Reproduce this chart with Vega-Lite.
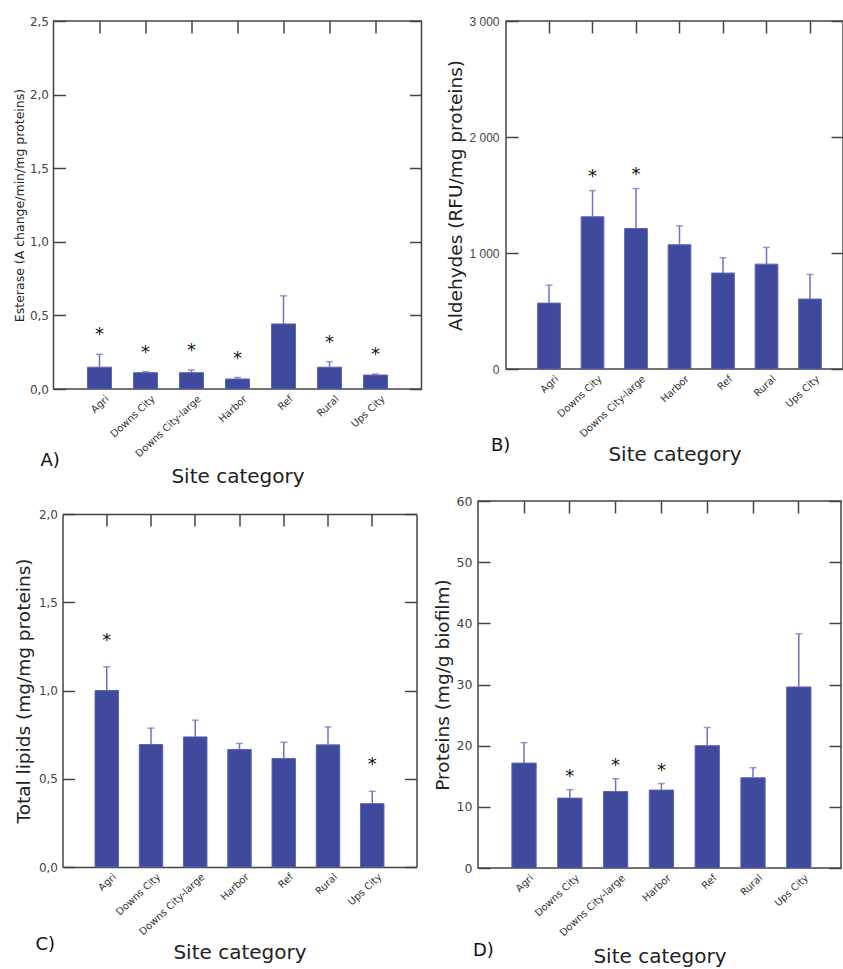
{
  "$schema": "https://vega.github.io/schema/vega-lite/v6.json",
  "padding": {"left": 12.5, "top": 9, "right": 0, "bottom": 0},
  "columns": 2,
  "align": "none",
  "bounds": "full",
  "spacing": {"row": 6, "column": 4.5},
  "datasets": {
    "esterase": [
      {"site": "Agri", "mean": 0.148, "upper": 0.236, "sig": "*"},
      {"site": "Downs City", "mean": 0.111, "upper": 0.118, "sig": "*"},
      {"site": "Downs City-large", "mean": 0.111, "upper": 0.129, "sig": "*"},
      {"site": "Harbor", "mean": 0.068, "upper": 0.078, "sig": "*"},
      {"site": "Ref", "mean": 0.442, "upper": 0.633, "sig": ""},
      {"site": "Rural", "mean": 0.148, "upper": 0.186, "sig": "*"},
      {"site": "Ups City", "mean": 0.095, "upper": 0.102, "sig": "*"}
    ],
    "aldehydes": [
      {"site": "Agri", "mean": 568, "upper": 723, "sig": ""},
      {"site": "Downs City", "mean": 1312, "upper": 1538, "sig": "*"},
      {"site": "Downs City-large", "mean": 1211, "upper": 1556, "sig": "*"},
      {"site": "Harbor", "mean": 1071, "upper": 1234, "sig": ""},
      {"site": "Ref", "mean": 827, "upper": 959, "sig": ""},
      {"site": "Rural", "mean": 904, "upper": 1048, "sig": ""},
      {"site": "Ups City", "mean": 603, "upper": 815, "sig": ""}
    ],
    "lipids": [
      {"site": "Agri", "mean": 1.0, "upper": 1.134, "sig": "*"},
      {"site": "Downs City", "mean": 0.694, "upper": 0.787, "sig": ""},
      {"site": "Downs City-large", "mean": 0.737, "upper": 0.832, "sig": ""},
      {"site": "Harbor", "mean": 0.666, "upper": 0.70, "sig": ""},
      {"site": "Ref", "mean": 0.615, "upper": 0.707, "sig": ""},
      {"site": "Rural", "mean": 0.692, "upper": 0.794, "sig": ""},
      {"site": "Ups City", "mean": 0.359, "upper": 0.429, "sig": "*"}
    ],
    "proteins": [
      {"site": "Agri", "mean": 17.15, "upper": 20.5, "sig": ""},
      {"site": "Downs City", "mean": 11.43, "upper": 12.8, "sig": "*"},
      {"site": "Downs City-large", "mean": 12.5, "upper": 14.6, "sig": "*"},
      {"site": "Harbor", "mean": 12.74, "upper": 13.8, "sig": "*"},
      {"site": "Ref", "mean": 20.0, "upper": 22.97, "sig": ""},
      {"site": "Rural", "mean": 14.75, "upper": 16.4, "sig": ""},
      {"site": "Ups City", "mean": 29.6, "upper": 38.3, "sig": ""}
    ]
  },
  "concat": [
    {
      "width": 368, "height": 368,
      "data": {"name": "esterase"},
      "title": {"text": "A)", "orient": "bottom", "anchor": "start", "frame": "group", "dx": -13, "offset": -35},
      "layer": [
        {
          "mark": {"type": "bar", "color": "#3f4a9d", "stroke": "#5d64b3", "strokeWidth": 1},
          "encoding": {
            "x": {"field": "site", "type": "nominal", "sort": null, "scale": {"paddingInner": 0.478, "paddingOuter": 0.739},
                  "axis": {"orient": "bottom", "ticks": false, "labelAngle": -43, "labelAlign": "right", "labelBaseline": "middle", "labelFontSize": 10, "labelPadding": 8, "labelOffset": 8, "labelColor": "#333", "labelOverlap": false, "title": "Site category", "titleFontSize": 20, "titlePadding": 8}},
            "y": {"field": "mean", "type": "quantitative", "scale": {"domain": [0, 2.5], "nice": false},
                  "axis": {"orient": "left", "values": [0, 0.5, 1, 1.5, 2, 2.5], "format": ".1f", "tickSize": -12, "labelPadding": 17, "labelFontSize": 12, "minExtent": 0, "title": "Esterase (A change/min/mg proteins)", "titleFontSize": 12.5, "titlePadding": 3}}
          }
        },
        {
          "mark": {"type": "rule", "color": "#6e72c0", "strokeWidth": 1.5},
          "encoding": {
            "x": {"field": "site", "type": "nominal", "sort": null, "axis": {"orient": "top", "labels": false, "tickSize": -12, "title": null}},
            "y": {"field": "mean", "type": "quantitative", "scale": {"domain": [0, 2.5], "nice": false}, "axis": {"orient": "right", "values": [0, 0.5, 1, 1.5, 2, 2.5], "labels": false, "tickSize": -12, "title": null, "minExtent": 5}},
            "y2": {"field": "upper"}
          }
        },
        {
          "mark": {"type": "tick", "color": "#6e72c0", "thickness": 1.5, "size": 7},
          "encoding": {
            "x": {"field": "site", "type": "nominal", "sort": null, "axis": null},
            "y": {"field": "upper", "type": "quantitative", "axis": null}
          }
        },
        {
          "mark": {"type": "text", "font": "DejaVu Sans", "fontSize": 18, "baseline": "alphabetic", "dy": -14, "color": "#111"},
          "encoding": {
            "x": {"field": "site", "type": "nominal", "sort": null, "axis": null},
            "y": {"field": "upper", "type": "quantitative", "axis": null},
            "text": {"field": "sig"}
          }
        }
      ],
      "resolve": {"axis": {"x": "independent", "y": "independent"}}
    },
    {
      "width": 337, "height": 348,
      "data": {"name": "aldehydes"},
      "title": {"text": "B)", "orient": "bottom", "anchor": "start", "frame": "group", "dx": -15, "offset": -28},
      "layer": [
        {
          "mark": {"type": "bar", "color": "#3f4a9d", "stroke": "#5d64b3", "strokeWidth": 1},
          "encoding": {
            "x": {"field": "site", "type": "nominal", "sort": null, "scale": {"paddingInner": 0.478, "paddingOuter": 0.6125, "align": 0.594},
                  "axis": {"orient": "bottom", "ticks": false, "labelAngle": -43, "labelAlign": "right", "labelBaseline": "middle", "labelFontSize": 10, "labelPadding": 8, "labelOffset": 8, "labelColor": "#333", "labelOverlap": false, "title": "Site category", "titleFontSize": 20, "titlePadding": 6}},
            "y": {"field": "mean", "type": "quantitative", "scale": {"domain": [0, 3000], "nice": false},
                  "axis": {"orient": "left", "values": [0, 1000, 2000, 3000], "format": ",d", "tickSize": -12, "labelPadding": 19, "labelFontSize": 12, "labelFont": "Liberation Sans", "minExtent": 0, "title": [" ", "Aldehydes (RFU/mg proteins)"], "titleLineHeight": 14, "titleFontSize": 18.5, "titlePadding": 3}}
          }
        },
        {
          "mark": {"type": "rule", "color": "#6e72c0", "strokeWidth": 1.5},
          "encoding": {
            "x": {"field": "site", "type": "nominal", "sort": null, "axis": {"orient": "top", "labels": false, "tickSize": -12, "title": null, "minExtent": 11}},
            "y": {"field": "mean", "type": "quantitative", "scale": {"domain": [0, 3000], "nice": false}, "axis": {"orient": "right", "values": [0, 1000, 2000, 3000], "labels": false, "tickSize": -12, "title": null, "minExtent": 0}},
            "y2": {"field": "upper"}
          }
        },
        {
          "mark": {"type": "tick", "color": "#6e72c0", "thickness": 1.5, "size": 7},
          "encoding": {
            "x": {"field": "site", "type": "nominal", "sort": null, "axis": null},
            "y": {"field": "upper", "type": "quantitative", "axis": null}
          }
        },
        {
          "mark": {"type": "text", "font": "DejaVu Sans", "fontSize": 18, "baseline": "alphabetic", "dy": -9, "color": "#111"},
          "encoding": {
            "x": {"field": "site", "type": "nominal", "sort": null, "axis": null},
            "y": {"field": "upper", "type": "quantitative", "axis": null},
            "text": {"field": "sig"}
          }
        }
      ],
      "resolve": {"axis": {"x": "independent", "y": "independent"}}
    },
    {
      "width": 363, "height": 353,
      "data": {"name": "lipids"},
      "view": {"stroke": null},
      "title": {"text": "C)", "orient": "bottom", "anchor": "start", "frame": "group", "dx": -18, "offset": -27},
      "layer": [
        {
          "mark": {"type": "bar", "color": "#3f4a9d", "stroke": "#5d64b3", "strokeWidth": 1},
          "encoding": {
            "x": {"field": "site", "type": "nominal", "sort": null, "scale": {"range": [9, 363], "paddingInner": 0.47, "paddingOuter": 0.735},
                  "axis": {"orient": "bottom", "ticks": false, "domain": true, "domainColor": "#444", "domainWidth": 1.5, "labelAngle": -43, "labelAlign": "right", "labelBaseline": "middle", "labelFontSize": 10, "labelPadding": 8, "labelOffset": 8, "labelColor": "#333", "labelOverlap": false, "title": "Site category", "titleFontSize": 20, "titlePadding": 6}},
            "y": {"field": "mean", "type": "quantitative", "scale": {"domain": [0, 2], "nice": false},
                  "axis": {"orient": "left", "offset": -9, "domain": true, "domainColor": "#444", "domainWidth": 1.5, "values": [0, 0.5, 1, 1.5, 2], "format": ".1f", "tickSize": -12, "labelPadding": 17, "labelFontSize": 12, "minExtent": 0, "title": "Total lipids (mg/mg proteins)", "titleFontSize": 18.5, "titlePadding": 4.5}}
          }
        },
        {
          "mark": {"type": "rule", "color": "#6e72c0", "strokeWidth": 1.5},
          "encoding": {
            "x": {"field": "site", "type": "nominal", "sort": null, "axis": {"orient": "top", "domain": true, "domainColor": "#444", "domainWidth": 1.5, "labels": false, "tickSize": -12, "title": null, "minExtent": 20}},
            "y": {"field": "mean", "type": "quantitative", "scale": {"domain": [0, 2], "nice": false}, "axis": {"orient": "right", "domain": true, "domainColor": "#444", "domainWidth": 1.5, "values": [0, 0.5, 1, 1.5, 2], "labels": false, "tickSize": -12, "title": null, "minExtent": 0}},
            "y2": {"field": "upper"}
          }
        },
        {
          "mark": {"type": "tick", "color": "#6e72c0", "thickness": 1.5, "size": 7},
          "encoding": {
            "x": {"field": "site", "type": "nominal", "sort": null, "axis": null},
            "y": {"field": "upper", "type": "quantitative", "axis": null}
          }
        },
        {
          "mark": {"type": "text", "font": "DejaVu Sans", "fontSize": 18, "baseline": "alphabetic", "dy": -21, "color": "#111"},
          "encoding": {
            "x": {"field": "site", "type": "nominal", "sort": null, "axis": null},
            "y": {"field": "upper", "type": "quantitative", "axis": null},
            "text": {"field": "sig"}
          }
        }
      ],
      "resolve": {"axis": {"x": "independent", "y": "independent"}}
    },
    {
      "width": 363, "height": 367,
      "data": {"name": "proteins"},
      "title": {"text": "D)", "orient": "bottom", "anchor": "start", "frame": "group", "dx": -5, "offset": -24.5},
      "layer": [
        {
          "mark": {"type": "bar", "color": "#3f4a9d", "stroke": "#5d64b3", "strokeWidth": 1},
          "encoding": {
            "x": {"field": "site", "type": "nominal", "sort": null, "scale": {"paddingInner": 0.47, "paddingOuter": 0.698, "align": 0.53},
                  "axis": {"orient": "bottom", "ticks": false, "labelAngle": -43, "labelAlign": "right", "labelBaseline": "middle", "labelFontSize": 10, "labelPadding": 8, "labelOffset": 8, "labelColor": "#333", "labelOverlap": false, "title": "Site category", "titleFontSize": 20, "titlePadding": 9}},
            "y": {"field": "mean", "type": "quantitative", "scale": {"domain": [0, 60], "nice": false},
                  "axis": {"orient": "left", "values": [0, 10, 20, 30, 40, 50, 60], "format": "d", "tickSize": -12, "labelPadding": 18, "labelFontSize": 12.5, "minExtent": 0, "title": "Proteins (mg/g biofilm)", "titleFontSize": 18.5, "titlePadding": 4}}
          }
        },
        {
          "mark": {"type": "rule", "color": "#6e72c0", "strokeWidth": 1.5},
          "encoding": {
            "x": {"field": "site", "type": "nominal", "sort": null, "axis": {"orient": "top", "labels": false, "tickSize": -12, "title": null}},
            "y": {"field": "mean", "type": "quantitative", "scale": {"domain": [0, 60], "nice": false}, "axis": {"orient": "right", "values": [0, 10, 20, 30, 40, 50, 60], "labels": false, "tickSize": -12, "title": null, "minExtent": 0}},
            "y2": {"field": "upper"}
          }
        },
        {
          "mark": {"type": "tick", "color": "#6e72c0", "thickness": 1.5, "size": 7},
          "encoding": {
            "x": {"field": "site", "type": "nominal", "sort": null, "axis": null},
            "y": {"field": "upper", "type": "quantitative", "axis": null}
          }
        },
        {
          "mark": {"type": "text", "font": "DejaVu Sans", "fontSize": 18, "baseline": "alphabetic", "dy": -7.5, "color": "#111"},
          "encoding": {
            "x": {"field": "site", "type": "nominal", "sort": null, "axis": null},
            "y": {"field": "upper", "type": "quantitative", "axis": null},
            "text": {"field": "sig"}
          }
        }
      ],
      "resolve": {"axis": {"x": "independent", "y": "independent"}}
    }
  ],
  "config": {
    "locale": {"number": {"decimal": ",", "thousands": " ", "grouping": [3], "currency": ["", ""]}},
    "view": {"stroke": "#444", "strokeWidth": 1.5},
    "axis": {"grid": false, "domain": false, "labelFont": "DejaVu Sans", "titleFont": "DejaVu Sans", "labelColor": "#444", "titleColor": "#222", "tickColor": "#444", "tickWidth": 1.5, "titleFontWeight": "normal"},
    "title": {"font": "DejaVu Sans", "fontWeight": "normal", "fontSize": 18, "color": "#111"}
  }
}
